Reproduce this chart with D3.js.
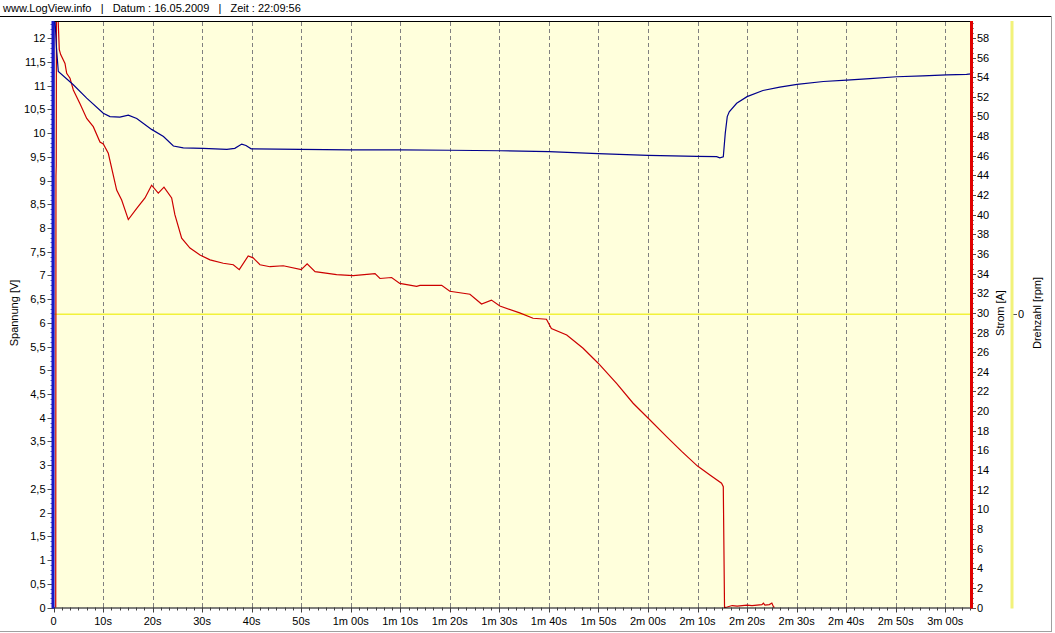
<!DOCTYPE html>
<html><head><meta charset="utf-8">
<script src="https://cdn.jsdelivr.net/npm/d3@7"></script>
<style>
html,body{margin:0;padding:0;background:#fff;}
svg{display:block;font-family:"Liberation Sans",Arial,sans-serif;}
</style></head>
<body><svg id="c" width="1055" height="633"></svg>
<script>
// ---- data ----
const headerText = "www.LogView.info   |   Datum : 16.05.2009   |   Zeit : 22:09:56";
const timeTicks = [0,10,20,30,40,50,60,70,80,90,100,110,120,130,140,150,160,170,180];
const timeLabels = ["0","10s","20s","30s","40s","50s","1m 00s","1m 10s","1m 20s","1m 30s","1m 40s","1m 50s","2m 00s","2m 10s","2m 20s","2m 30s","2m 40s","2m 50s","3m 00s"];
const voltTicks = [0,0.5,1,1.5,2,2.5,3,3.5,4,4.5,5,5.5,6,6.5,7,7.5,8,8.5,9,9.5,10,10.5,11,11.5,12];
const ampTicks = [0,2,4,6,8,10,12,14,16,18,20,22,24,26,28,30,32,34,36,38,40,42,44,46,48,50,52,54,56,58];
const rpmTicks = [0];

// Spannung [V] : time (s), value
const voltTime = [0,0.1,0.3,0.6,0.97,4.0,6.7,10.05,11.4,13.4,15.1,16.8,19.8,22.2,24.2,26.2,30.2,35.0,36.6,38.0,38.85,39.9,49.75,59.8,69.9,80,90.1,100,109.9,120,129.9,133.85,134.5,135.2,135.6,136.0,136.4,137.9,140.0,143.2,146.6,150.1,155.4,160.1,164.8,170.2,175.5,180.3,184.3,185.2];
const voltVals = [0,12.6,12.4,11.8,11.3,11.02,10.74,10.42,10.35,10.34,10.38,10.31,10.08,9.93,9.73,9.69,9.68,9.66,9.68,9.77,9.74,9.67,9.66,9.65,9.65,9.64,9.63,9.61,9.57,9.53,9.51,9.505,9.48,9.5,10.0,10.35,10.45,10.63,10.77,10.9,10.97,11.03,11.09,11.12,11.15,11.19,11.21,11.23,11.24,11.25];

// Strom [A]
const ampTime = [0.45,0.5,0.55,0.6,0.77,1.17,1.45,2.32,2.66,3.33,4.0,5.35,6.7,8.03,9.38,10.05,11.06,12.75,13.76,15.1,16.8,18.47,19.8,21.15,22.3,23.85,24.5,25.87,27.55,29.57,31.6,34.27,36.29,37.5,39.3,40.3,41.68,43.7,46.38,50.0,51.2,52.8,57.15,60.5,64.9,65.9,68.25,69.9,73.3,73.97,78.35,80.0,84.06,86.4,88.4,90.1,94.1,96.8,99.5,100.5,103.6,106.9,109.9,113.7,117.0,120.0,123.75,126.8,130.0,132.5,134.85,135.2,135.45,136.0,137.0,138.0,139.0,140.0,141.0,142.0,143.0,143.3,143.6,144.5,145.0,145.3,145.5];
const ampVals = [0,44,45,62,62,56.8,56.3,55.4,54.4,53.9,52.7,51.3,49.8,48.96,47.4,47.2,46.25,42.5,41.5,39.5,40.65,41.7,43.0,42.2,42.8,41.7,40.0,37.6,36.6,35.9,35.4,35.05,34.9,34.4,35.8,35.6,34.9,34.7,34.8,34.4,35.0,34.2,33.9,33.8,34.0,33.5,33.6,33.0,32.7,32.8,32.8,32.2,31.9,30.9,31.3,30.7,30.0,29.45,29.35,28.4,27.75,26.4,24.9,22.8,20.8,19.3,17.4,15.9,14.4,13.5,12.65,12.3,0,0.05,0.2,0.15,0.2,0.25,0.2,0.25,0.3,0.45,0.25,0.3,0.45,0.1,0];

// Drehzahl [rpm]
const rpmTime = [0,185.2];
const rpmVals = [0,0];

// ---- layout ----
const L = 53.5, R = 971, T = 21, B = 607.5;
const svg = d3.select("#c");
const x = d3.scaleLinear().domain([0,185.2]).range([L,R]);
const yV = d3.scaleLinear().domain([0,12.365]).range([B,T]);
const yA = d3.scaleLinear().domain([0,59.72]).range([B,T]);
const yR = d3.scaleLinear().domain([-1,1]).range([B,T]);

// frame
svg.append("line").attr("x1",0).attr("x2",1051).attr("y1",16.5).attr("y2",16.5).attr("stroke","#000").attr("stroke-width",1);
svg.append("line").attr("x1",1051.5).attr("x2",1051.5).attr("y1",16).attr("y2",631).attr("stroke","#a0a0a0");
svg.append("line").attr("x1",0).attr("x2",1052).attr("y1",631.5).attr("y2",631.5).attr("stroke","#a0a0a0");

svg.append("text").attr("x",3).attr("y",12).attr("font-size",11).attr("fill","#000").attr("xml:space","preserve").style("white-space","pre").text(headerText);

// plot background
svg.append("rect").attr("x",L).attr("y",T).attr("width",R-L).attr("height",B-T).attr("fill","#ffffdc");
svg.append("line").attr("x1",L).attr("x2",R).attr("y1",T+0.5).attr("y2",T+0.5).attr("stroke","#000");

// grid
svg.append("g").selectAll("line").data(timeTicks.filter(d=>d>0)).join("line")
  .attr("x1",d=>Math.round(x(d))+0.5).attr("x2",d=>Math.round(x(d))+0.5)
  .attr("y1",T+1).attr("y2",B).attr("stroke","#808080").attr("stroke-dasharray","4,3");

const clip = svg.append("clipPath").attr("id","pc").append("rect").attr("x",L).attr("y",T+1).attr("width",R-L).attr("height",B-T);

// rpm line (yellow)
const g = svg.append("g").attr("clip-path","url(#pc)");
g.append("path").datum(rpmTime.map((t,i)=>[t,rpmVals[i]]))
  .attr("d",d3.line().x(d=>x(d[0])).y(d=>yR(d[1]))).attr("fill","none").attr("stroke","#f2f23a").attr("stroke-width",1.5);

// bottom axis
const xAxis = svg.append("g");
xAxis.append("line").attr("x1",L-1).attr("x2",R).attr("y1",B+0.5).attr("y2",B+0.5).attr("stroke","#000");
const minorT = d3.range(0,185.2,10/6);
xAxis.selectAll("line.mn").data(minorT).join("line").attr("class","mn")
  .attr("x1",d=>Math.round(x(d))+0.5).attr("x2",d=>Math.round(x(d))+0.5).attr("y1",B).attr("y2",B+3).attr("stroke","#404040");
xAxis.selectAll("line.mj").data(timeTicks).join("line").attr("class","mj")
  .attr("x1",d=>Math.round(x(d))+0.5).attr("x2",d=>Math.round(x(d))+0.5).attr("y1",B).attr("y2",B+5).attr("stroke","#404040");
xAxis.selectAll("text").data(timeTicks).join("text")
  .attr("x",d=>x(d)).attr("y",625).attr("text-anchor","middle").attr("font-size",11).text((d,i)=>timeLabels[i]);

// left axis
const lAx = svg.append("g");
lAx.selectAll("line.mn").data(d3.range(0,12.36,0.1)).join("line").attr("class","mn")
  .attr("x1",L-3).attr("x2",L).attr("y1",d=>Math.round(yV(d))+0.5).attr("y2",d=>Math.round(yV(d))+0.5).attr("stroke","#6060c0");
lAx.selectAll("line.mj").data(voltTicks).join("line").attr("class","mj")
  .attr("x1",L-6).attr("x2",L).attr("y1",d=>Math.round(yV(d))+0.5).attr("y2",d=>Math.round(yV(d))+0.5).attr("stroke","#505050");
lAx.append("line").attr("x1",L-0.5).attr("x2",L-0.5).attr("y1",T).attr("y2",B+1).attr("stroke","#1818c8").attr("stroke-width",3);
lAx.selectAll("text").data(voltTicks).join("text")
  .attr("x",L-8).attr("y",d=>yV(d)+4).attr("text-anchor","end").attr("font-size",11)
  .text(d=>String(d).replace(".",","));
svg.append("text").attr("transform","translate(18,313) rotate(-90)").attr("text-anchor","middle").attr("font-size",11).text("Spannung [V]");

// right axis (Strom)
const rAx = svg.append("g");
rAx.selectAll("line.mn").data(d3.range(0,59.7,0.5)).join("line").attr("class","mn")
  .attr("x1",R).attr("x2",R+3).attr("y1",d=>Math.round(yA(d))+0.5).attr("y2",d=>Math.round(yA(d))+0.5).attr("stroke","#909090");
rAx.selectAll("line.mj").data(ampTicks).join("line").attr("class","mj")
  .attr("x1",R).attr("x2",R+5).attr("y1",d=>Math.round(yA(d))+0.5).attr("y2",d=>Math.round(yA(d))+0.5).attr("stroke","#505050");
rAx.selectAll("text").data(ampTicks).join("text")
  .attr("x",R+6).attr("y",d=>yA(d)+4).attr("text-anchor","start").attr("font-size",11).text(d=>d);
svg.append("text").attr("transform","translate(1004,313) rotate(-90)").attr("text-anchor","middle").attr("font-size",11).text("Strom [A]");

// rpm axis
const rpmX = 1012;
svg.selectAll("line.rp").data(rpmTicks).join("line").attr("class","rp")
  .attr("x1",rpmX).attr("x2",rpmX+5).attr("y1",d=>Math.round(yR(d))+0.5).attr("y2",d=>Math.round(yR(d))+0.5).attr("stroke","#505050");
svg.append("line").attr("x1",rpmX).attr("x2",rpmX).attr("y1",T).attr("y2",B+1).attr("stroke","#f2f27a").attr("stroke-width",3);
svg.selectAll("text.rp").data(rpmTicks).join("text").attr("class","rp")
  .attr("x",rpmX+6).attr("y",d=>yR(d)+4).attr("font-size",11).text(d=>d);
svg.append("text").attr("transform","translate(1041,313) rotate(-90)").attr("text-anchor","middle").attr("font-size",11).text("Drehzahl [rpm]");

// data lines
g.append("path").datum(ampTime.map((t,i)=>[t,ampVals[i]]))
  .attr("d",d3.line().x(d=>x(d[0])).y(d=>yA(d[1]))).attr("fill","none").attr("stroke","#cc0000").attr("stroke-width",1.2);
g.append("path").datum(voltTime.map((t,i)=>[t,voltVals[i]]))
  .attr("d",d3.line().x(d=>x(d[0])).y(d=>yV(d[1]))).attr("fill","none").attr("stroke","#00008c").attr("stroke-width",1.2);

// red axis line on top
svg.append("line").attr("x1",R+0.5).attr("x2",R+0.5).attr("y1",T).attr("y2",B+1).attr("stroke","#e00000").attr("stroke-width",3);
</script></body></html>
